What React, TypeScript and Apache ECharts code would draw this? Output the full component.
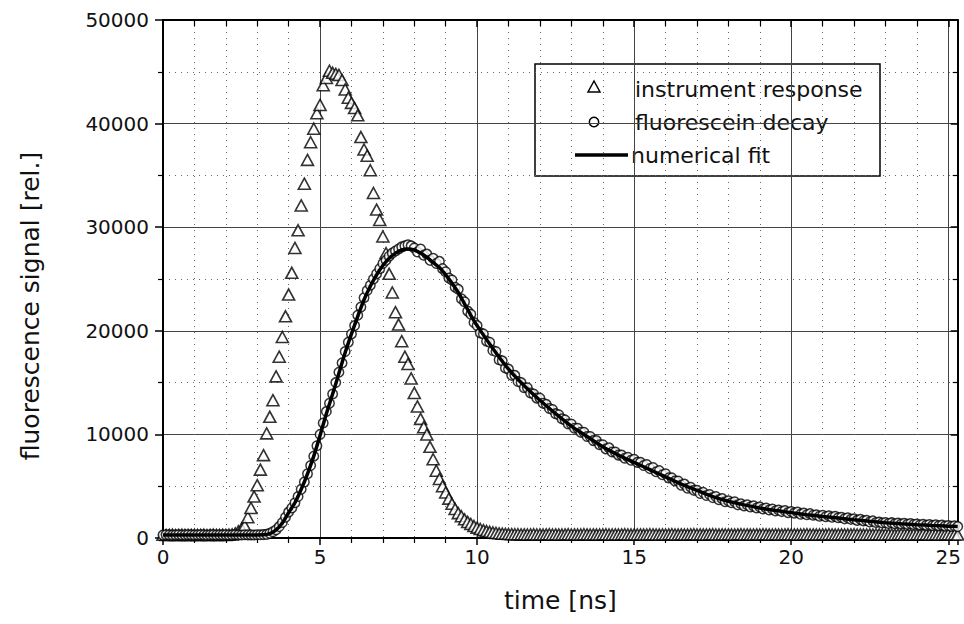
import React, { useEffect, useRef } from "react";
import * as echarts from "echarts";

// time axis of the recorded channels [ns]
const timeNs = [
  0.0, 0.1, 0.2, 0.3, 0.4, 0.5, 0.6, 0.7, 0.8, 0.9, 1.0, 1.1, 1.2, 1.3, 1.4, 1.5, 1.6, 1.7, 1.8, 1.9,
  2.0, 2.1, 2.2, 2.3, 2.4, 2.5, 2.6, 2.7, 2.8, 2.9, 3.0, 3.1, 3.2, 3.3, 3.4, 3.5, 3.6, 3.7, 3.8, 3.9,
  4.0, 4.1, 4.2, 4.3, 4.4, 4.5, 4.6, 4.7, 4.8, 4.9, 5.0, 5.1, 5.2, 5.3, 5.4, 5.5, 5.6, 5.7, 5.8, 5.9,
  6.0, 6.1, 6.2, 6.3, 6.4, 6.5, 6.6, 6.7, 6.8, 6.9, 7.0, 7.1, 7.2, 7.3, 7.4, 7.5, 7.6, 7.7, 7.8, 7.9,
  8.0, 8.1, 8.2, 8.3, 8.4, 8.5, 8.6, 8.7, 8.8, 8.9, 9.0, 9.1, 9.2, 9.3, 9.4, 9.5, 9.6, 9.7, 9.8, 9.9,
  10.0, 10.1, 10.2, 10.3, 10.4, 10.5, 10.6, 10.7, 10.8, 10.9, 11.0, 11.1, 11.2, 11.3, 11.4, 11.5, 11.6, 11.7, 11.8, 11.9,
  12.0, 12.1, 12.2, 12.3, 12.4, 12.5, 12.6, 12.7, 12.8, 12.9, 13.0, 13.1, 13.2, 13.3, 13.4, 13.5, 13.6, 13.7, 13.8, 13.9,
  14.0, 14.1, 14.2, 14.3, 14.4, 14.5, 14.6, 14.7, 14.8, 14.9, 15.0, 15.1, 15.2, 15.3, 15.4, 15.5, 15.6, 15.7, 15.8, 15.9,
  16.0, 16.1, 16.2, 16.3, 16.4, 16.5, 16.6, 16.7, 16.8, 16.9, 17.0, 17.1, 17.2, 17.3, 17.4, 17.5, 17.6, 17.7, 17.8, 17.9,
  18.0, 18.1, 18.2, 18.3, 18.4, 18.5, 18.6, 18.7, 18.8, 18.9, 19.0, 19.1, 19.2, 19.3, 19.4, 19.5, 19.6, 19.7, 19.8, 19.9,
  20.0, 20.1, 20.2, 20.3, 20.4, 20.5, 20.6, 20.7, 20.8, 20.9, 21.0, 21.1, 21.2, 21.3, 21.4, 21.5, 21.6, 21.7, 21.8, 21.9,
  22.0, 22.1, 22.2, 22.3, 22.4, 22.5, 22.6, 22.7, 22.8, 22.9, 23.0, 23.1, 23.2, 23.3, 23.4, 23.5, 23.6, 23.7, 23.8, 23.9,
  24.0, 24.1, 24.2, 24.3, 24.4, 24.5, 24.6, 24.7, 24.8, 24.9, 25.0, 25.1, 25.2, 25.3,
];

// instrument response (triangles)
const instrumentResponse = [
  310, 290, 300, 320, 280, 300, 310, 290, 300, 300, 320, 290, 300, 310, 280, 300, 320, 300, 290, 310,
  300, 320, 350, 450, 650, 900, 1200, 2000, 2900, 4000, 5100, 6600, 8000, 10100, 11700, 13300, 15600, 17500, 19400, 21400,
  23500, 25600, 28000, 29700, 32100, 34200, 36500, 38200, 39500, 41000, 41800, 43700, 44400, 45100, 44900, 44800, 44700, 44200, 43300, 42500,
  42000, 41500, 40800, 38700, 37500, 36900, 35500, 33300, 31700, 30700, 29100, 27500, 25500, 23700, 21800, 20600, 19000, 17500, 16800, 15400,
  14000, 12700, 11500, 10700, 10000, 8800, 7600, 6500, 5700, 5000, 4400, 3800, 3300, 2800, 2400, 2100, 1800, 1550, 1350, 1150,
  1000, 870, 760, 670, 600, 540, 490, 450, 420, 400, 380, 370, 360, 360, 350, 350, 340, 350, 360, 340,
  350, 330, 350, 360, 340, 350, 340, 330, 350, 360, 340, 350, 330, 340, 360, 350, 340, 350, 330, 340,
  350, 360, 340, 330, 350, 340, 350, 360, 340, 330, 350, 340, 350, 330, 340, 360, 350, 340, 330, 350,
  340, 350, 360, 340, 330, 350, 340, 330, 350, 360, 340, 350, 330, 340, 350, 360, 340, 330, 350, 340,
  350, 340, 330, 350, 360, 340, 350, 330, 340, 350, 340, 360, 350, 330, 340, 350, 340, 330, 350, 360,
  340, 350, 330, 340, 350, 360, 340, 350, 330, 340, 350, 340, 360, 350, 330, 340, 350, 340, 330, 350,
  360, 340, 350, 330, 340, 350, 340, 360, 350, 330, 340, 350, 340, 330, 350, 360, 340, 350, 330, 340,
  350, 340, 360, 350, 330, 340, 350, 340, 330, 350, 360, 340, 350, 330,
];

// fluorescein decay (circles)
const fluoresceinDecay = [
  290, 310, 300, 280, 300, 310, 290, 300, 320, 300, 290, 300, 310, 300, 280, 300, 310, 290, 300, 300,
  310, 290, 300, 320, 300, 290, 310, 300, 300, 290, 310, 320, 330, 350, 450, 600, 800, 1100, 1500, 2000,
  2500, 2900, 3400, 4000, 4700, 5400, 6200, 7000, 7900, 8900, 10000, 11100, 12200, 13000, 13900, 15000, 16000, 16900, 18000, 18900,
  19700, 20500, 21500, 22300, 23200, 23900, 24400, 25000, 25500, 26000, 26500, 26800, 27200, 27500, 27700, 27900, 28100, 28200, 28300, 28200,
  28000, 27600, 27900, 27300, 27400, 26800, 27000, 26500, 26700, 26000, 25700, 25100, 24900, 24200, 24000, 23100, 22800, 21900, 21600, 20800,
  20500, 19800, 19700, 19000, 18900, 18100, 18000, 17200, 17100, 16400, 16300, 15700, 15700, 15100, 15000, 14500, 14500, 14000, 13900, 13500,
  13500, 13000, 12900, 12500, 12400, 12000, 11900, 11500, 11400, 11000, 11000, 10600, 10600, 10200, 10200, 9800, 9800, 9400, 9400, 9000,
  9000, 8600, 8700, 8300, 8300, 8000, 8000, 7700, 7800, 7500, 7600, 7300, 7300, 7000, 7100, 6700, 6800, 6400, 6500, 6100,
  6200, 5800, 5800, 5500, 5500, 5100, 5200, 4800, 4900, 4600, 4600, 4300, 4400, 4100, 4200, 3900, 4000, 3700, 3800, 3500,
  3600, 3400, 3500, 3200, 3300, 3100, 3200, 3000, 3100, 2900, 3000, 2800, 2900, 2700, 2800, 2600, 2700, 2550, 2650, 2450,
  2550, 2400, 2500, 2300, 2400, 2250, 2350, 2200, 2250, 2100, 2200, 2050, 2150, 2000, 2100, 1950, 2000, 1850, 1950, 1800,
  1850, 1700, 1800, 1650, 1700, 1550, 1650, 1500, 1550, 1450, 1500, 1400, 1480, 1380, 1450, 1350, 1420, 1320, 1400, 1300,
  1350, 1260, 1330, 1230, 1300, 1200, 1270, 1180, 1240, 1150, 1200, 1120, 1180, 1100,
];

// numerical fit (thick line)
const fitTimeNs = [
  0, 1, 2, 3, 3.2, 3.4, 3.6, 3.8, 4.0, 4.2, 4.4, 4.6, 4.8, 5.0, 5.2, 5.4, 5.6, 5.8, 6.0, 6.2,
  6.4, 6.6, 6.8, 7.0, 7.2, 7.4, 7.6, 7.8, 8.0, 8.2, 8.4, 8.6, 8.8, 9.0, 9.2, 9.4, 9.6, 9.8, 10.0, 10.5,
  11.0, 11.5, 12.0, 12.5, 13.0, 13.5, 14.0, 14.5, 15.0, 15.5, 16.0, 16.5, 17.0, 17.5, 18.0, 18.5, 19.0, 19.5, 20.0, 20.5,
  21.0, 21.5, 22.0, 22.5, 23.0, 23.5, 24.0, 24.5, 25.0, 25.3,
];
const fitValue = [
  300, 300, 300, 300, 310, 420, 780, 1450, 2450, 3400, 4700, 6200, 7900, 9900, 12000, 13900, 15900, 17900, 19700, 21400,
  23000, 24300, 25400, 26300, 27000, 27500, 27800, 27900, 27800, 27500, 27100, 26600, 26100, 25400, 24600, 23700, 22600, 21500, 20500, 18300,
  16300, 14700, 13300, 12000, 10800, 9800, 8800, 8000, 7300, 6600, 5900, 5200, 4600, 4000, 3550, 3200, 2900, 2650, 2450, 2250,
  2080, 1920, 1760, 1610, 1480, 1380, 1290, 1210, 1140, 1100,
];

const xTicks = { min: 0, max: 25.3, interval: 5 };
const yTicks = { min: 0, max: 50000, interval: 10000 };

const legendNames = ["instrument response", "fluorescein decay", "numerical fit"];
const axisTitles = { x: "time [ns]", y: "fluorescence signal [rel.]" };

const FONT = "DejaVu Sans";
const INK = "#111";

export default function App() {
  const ref = useRef<HTMLDivElement>(null);

  useEffect(() => {
    if (!ref.current) return;
    const chart = echarts.init(ref.current, undefined, { renderer: "svg" });

    const irf = timeNs.map((t, i) => [t, instrumentResponse[i]]);
    const dec = timeNs.map((t, i) => [t, fluoresceinDecay[i]]);
    const fit = fitTimeNs.map((t, i) => [t, fitValue[i]]);

    const majorGrid = { show: true, lineStyle: { color: "#444", width: 1, type: "solid" as const } };
    const minorGrid = { show: true, lineStyle: { color: "#666", width: 1, type: [1, 5] as any } };

    chart.setOption({
      animation: false,
      backgroundColor: "#fff",
      grid: { left: 163, right: 1, top: 20, bottom: 86, containLabel: false },
      xAxis: [
        {
          type: "value",
          ...xTicks,
          name: axisTitles.x,
          nameLocation: "middle",
          nameGap: 50,
          nameTextStyle: { fontFamily: FONT, fontSize: 25, color: INK },
          axisLine: { show: true, onZero: false, lineStyle: { color: "#000", width: 2 } },
          axisTick: { show: true, inside: false, length: 7, lineStyle: { color: "#000", width: 1.5 } },
          minorTick: { show: true, splitNumber: 5, length: 5, lineStyle: { color: "#000", width: 1.2 } },
          axisLabel: { fontFamily: FONT, fontSize: 20, color: INK, margin: 9, showMaxLabel: false },
          splitLine: majorGrid,
          minorSplitLine: minorGrid,
        },
        {
          type: "value",
          position: "top",
          ...xTicks,
          axisLine: { show: true, onZero: false, lineStyle: { color: "#000", width: 2 } },
          axisTick: { show: true, inside: true, length: 7, lineStyle: { color: "#000", width: 1.5 } },
          minorTick: { show: true, splitNumber: 5, length: 6, lineStyle: { color: "#000", width: 1.2 } },
          axisLabel: { show: false },
          splitLine: { show: false },
        },
      ],
      yAxis: [
        {
          type: "value",
          ...yTicks,
          axisLine: { show: true, onZero: false, lineStyle: { color: "#000", width: 2 } },
          axisTick: { show: true, inside: false, length: 8, lineStyle: { color: "#000", width: 1.5 } },
          minorTick: { show: true, splitNumber: 2, length: 5, lineStyle: { color: "#000", width: 1.2 } },
          axisLabel: { fontFamily: FONT, fontSize: 20, color: INK, margin: 14, formatter: (v: number) => String(v) },
          splitLine: majorGrid,
          minorSplitLine: minorGrid,
        },
        {
          type: "value",
          position: "right",
          ...yTicks,
          axisLine: { show: true, onZero: false, lineStyle: { color: "#000", width: 2 } },
          axisTick: { show: true, inside: true, length: 7, lineStyle: { color: "#000", width: 1.5 } },
          minorTick: { show: true, splitNumber: 2, length: 5, lineStyle: { color: "#000", width: 1.2 } },
          axisLabel: { show: false },
          splitLine: { show: false },
        },
      ],
      series: [
        {
          name: legendNames[0],
          type: "scatter",
          data: irf,
          symbol: "triangle",
          symbolSize: [12, 11],
          itemStyle: { color: "#fff", borderColor: "#000", borderWidth: 1.6 },
          z: 2,
        },
        {
          name: legendNames[1],
          type: "scatter",
          data: dec,
          symbol: "circle",
          symbolSize: 9.5,
          itemStyle: { color: "#fff", borderColor: "#000", borderWidth: 1.5 },
          z: 3,
        },
        {
          name: legendNames[2],
          type: "line",
          data: fit,
          smooth: 0.3,
          showSymbol: false,
          lineStyle: { color: "#000", width: 3.5 },
          z: 4,
        },
      ],
      graphic: [
        {
          type: "text",
          x: 30,
          y: 306,
          rotation: Math.PI / 2,
          style: {
            text: axisTitles.y,
            font: `25px "${FONT}"`,
            fill: INK,
            textAlign: "center",
            textVerticalAlign: "middle",
          },
        },
        {
          type: "group",
          z: 100,
          children: [
            { type: "rect", shape: { x: 535, y: 64, width: 345, height: 112 }, style: { fill: "#fff", stroke: "#000", lineWidth: 1.5 } },
            {
              type: "polygon",
              shape: { points: [[594, 81], [588, 92], [600, 92]] },
              style: { fill: "#fff", stroke: "#000", lineWidth: 1.5 },
            },
            { type: "circle", shape: { cx: 594, cy: 122, r: 4.7 }, style: { fill: "#fff", stroke: "#000", lineWidth: 1.5 } },
            { type: "line", shape: { x1: 575, y1: 155, x2: 628, y2: 155 }, style: { stroke: "#000", lineWidth: 3.5 } },
            { type: "text", x: 635, y: 89, style: { text: legendNames[0], font: `22px "${FONT}"`, fill: INK, textVerticalAlign: "middle" } },
            { type: "text", x: 635, y: 122, style: { text: legendNames[1], font: `22px "${FONT}"`, fill: INK, textVerticalAlign: "middle" } },
            { type: "text", x: 631, y: 155, style: { text: legendNames[2], font: `22px "${FONT}"`, fill: INK, textVerticalAlign: "middle" } },
          ],
        },
      ],
    });

    return () => chart.dispose();
  }, []);

  return <div ref={ref} style={{ width: 964, height: 624, position: "absolute", left: 0, top: 0 }} />;
}
